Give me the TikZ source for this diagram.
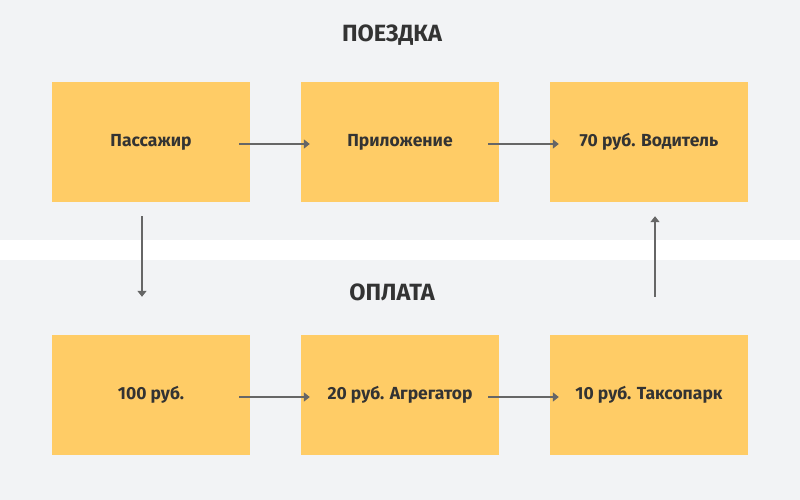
\documentclass[tikz,border=0pt]{standalone}
\usepackage{fontspec}
\setmainfont{Fira Sans}
\usetikzlibrary{arrows.meta,calc}
\definecolor{bg}{HTML}{F2F3F5}
\definecolor{boxc}{HTML}{FFCC66}
\definecolor{txt}{HTML}{333333}
\definecolor{arr}{HTML}{666666}
\begin{document}
\begin{tikzpicture}[x=1pt,y=-1pt,
  box/.style={fill=boxc,draw=none,minimum width=198pt,minimum height=120pt,inner sep=0pt,
    text=txt,font=\fontsize{17.5}{19}\selectfont\bfseries},
  title/.style={text=txt,font=\fontsize{23.5}{25}\selectfont\bfseries},
  link/.style={draw=arr,line width=2pt,-{Triangle[length=6pt,width=9pt]}}]
\useasboundingbox (0,0) rectangle (800,500);
\fill[bg] (0,0) rectangle (800,240);
\fill[white] (0,240) rectangle (800,260);
\fill[bg] (0,260) rectangle (800,500);
\node[title] (t1) at (392,35) {ПОЕЗДКА};
\node[title] (t2) at (392,292) {ОПЛАТА};
\node[box] (p) at (151,142) {Пассажир};
\node[box] (a) at (400,142) {Приложение};
\node[box] (d) at (649,142) {70 руб. Водитель};
\node[box] (m) at (151,395) {100 руб.};
\node[box] (g) at (400,395) {20 руб. Агрегатор};
\node[box] (k) at (649,395) {10 руб. Таксопарк};
\draw[link] ($(p.east)+(-11,2)$) -- ($(a.west)+(9,2)$);
\draw[link] ($(a.east)+(-11,2)$) -- ($(d.west)+(9,2)$);
\draw[link] ($(m.east)+(-11,2)$) -- ($(g.west)+(9,2)$);
\draw[link] ($(g.east)+(-11,2)$) -- ($(k.west)+(9,2)$);
\draw[link] ($(p.south)+(-9,14)$) -- ($(m.north)+(-9,-38)$);
\draw[link] ($(k.north)+(6,-38)$) -- ($(d.south)+(6,14)$);
\end{tikzpicture}
\end{document}
